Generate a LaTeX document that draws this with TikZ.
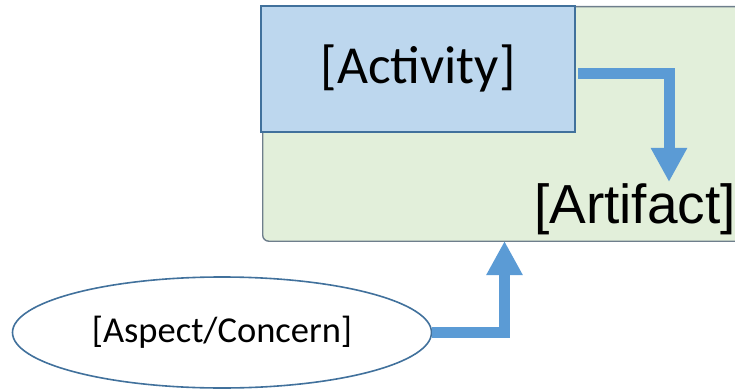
\documentclass[tikz,border=0pt]{standalone}
\usepackage{fontspec}
\setmainfont{Carlito}
\newfontfamily\arialfont{Liberation Sans}
\usetikzlibrary{arrows.meta,shapes.geometric}
\definecolor{actfill}{HTML}{BDD7EE}
\definecolor{actline}{HTML}{41719C}
\definecolor{framefill}{HTML}{E2EFDA}
\definecolor{frameline}{HTML}{6E7E8C}
\definecolor{flow}{HTML}{5B9BD5}
\tikzset{
  framebox/.style={draw=frameline, line width=1.4pt, fill=framefill, rounded corners=6pt},
  actbox/.style={draw=actline, line width=2pt, fill=actfill, rectangle,
    minimum width=314pt, minimum height=126pt, inner sep=0pt,
    font=\fontsize{53.5}{53.5}\selectfont},
  concern/.style={draw=actline, line width=1.6pt, fill=white, ellipse,
    minimum width=419pt, minimum height=111pt, inner sep=0pt,
    font=\fontsize{36.5}{36.5}\selectfont},
  arttext/.style={inner sep=0pt, font=\arialfont\fontsize{55}{55}\selectfont},
  flowarrow/.style={draw=flow, line width=11pt, line join=miter,
    -{Triangle[width=34pt,length=34pt]}}
}
\begin{document}
\begin{tikzpicture}[x=1pt,y=-1pt]
  \useasboundingbox (0,0) rectangle (735,390);
  \clip (0,0) rectangle (735,390);
  % green container
  \node[framebox, anchor=north west, minimum width=520pt, minimum height=234.5pt, inner sep=0pt]
    (frame) at (262,6) {};
  % activity box
  \node[actbox] (act) at (418,68.7) {[Activity]};
  % artifact label
  \node[arttext, anchor=base east] (art) at (736,223) {[Artifact]};
  % aspect / concern ellipse
  \node[concern] (asp) at (222,332.5) {[Aspect/Concern]};
  % arrow end points
  \coordinate (arttop) at (669,182);
  \coordinate (frameentry) at (504.5,241);
  % connectors
  \draw[flowarrow] ([shift={(2,5)}]act.east) -| (arttop);
  \draw[flowarrow] (asp.east) -| (frameentry);
\end{tikzpicture}
\end{document}
